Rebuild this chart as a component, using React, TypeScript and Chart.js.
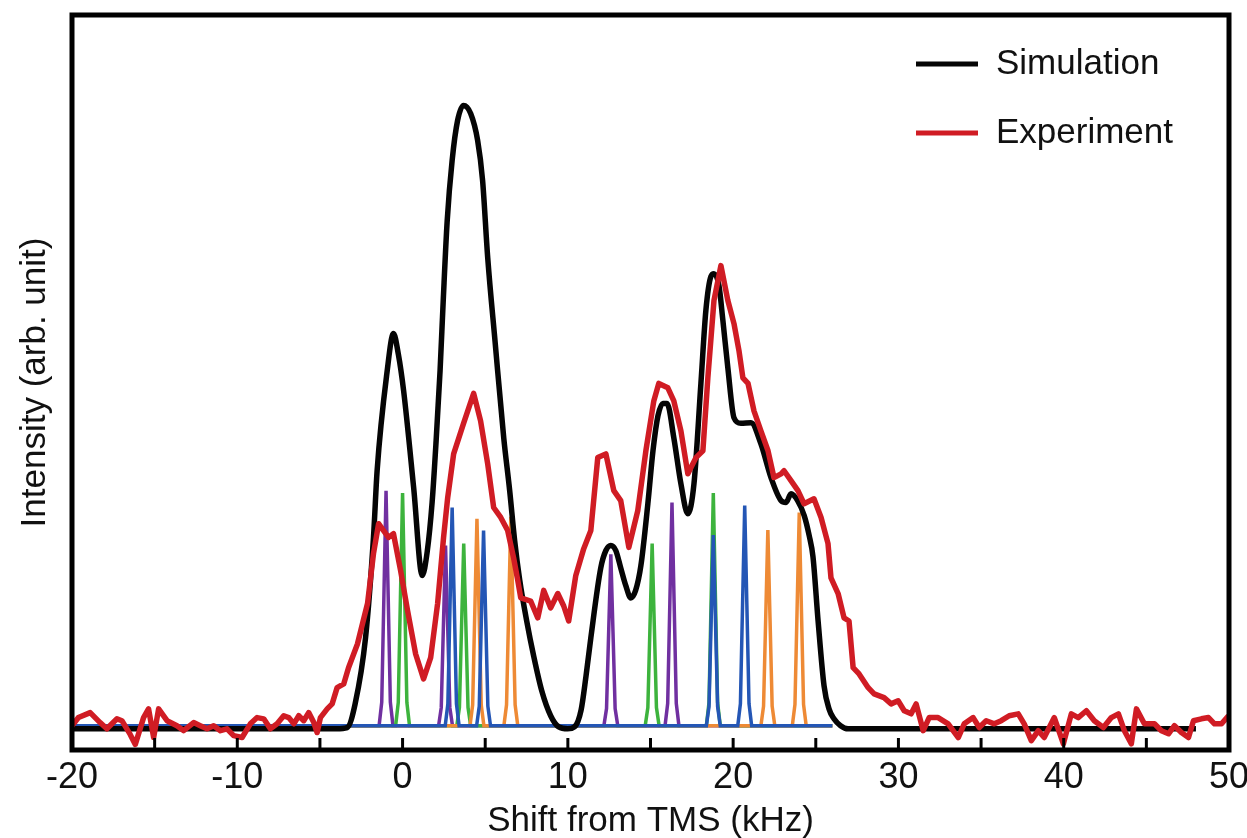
import { useEffect, useRef } from 'react';
import { Chart, registerables } from 'chart.js';

Chart.register(...registerables);

// ---------- axis settings ----------
const X_MIN = -20;
const X_MAX = 50;
const X_TICK_STEP = 5;
const X_LABEL_STEP = 10;
const Y_MIN = -3.4;
const Y_MAX = 114.5;

const X_TITLE = 'Shift from TMS (kHz)';
const Y_TITLE = 'Intensity (arb. unit)';
const SIM_LABEL = 'Simulation';
const EXP_LABEL = 'Experiment';
const LEGEND_ORDER = [SIM_LABEL, EXP_LABEL];

// ---------- simulation (black) ----------
const SIM_X = [
  -20, -4.0, -3.35, -2.87, -2.24, -1.76, -1.54, -0.95, -0.55, -0.25, 0.06, 0.67, 1.19,
  1.49, 1.79, 2.03, 2.27, 2.46, 2.7, 3.0, 3.33, 3.69, 4.12, 4.54, 4.84, 5.15, 5.6,
  6.12, 6.48, 6.78, 7.09, 7.51, 7.93, 8.42, 8.96, 9.45, 9.99, 10.4, 10.8, 11.1, 11.39,
  11.99, 12.3, 12.6, 12.9, 13.2, 13.5, 13.81, 14.1, 14.42, 14.84, 15.15, 15.45, 15.75,
  16.0, 16.41, 16.84, 17.26, 17.63, 18.05, 18.35, 18.66, 18.84, 19.14, 19.38, 19.68,
  20.05, 20.47, 21.08, 21.68, 22.29, 22.9, 23.2, 23.5, 23.9, 24.3, 24.6, 24.83, 25.14,
  25.5, 25.8, 26.1, 26.5, 26.95, 48.0,
];
const SIM_Y = [
  0, 0, 0.2, 4.0, 14.6, 30.7, 41.4, 57.0, 63.4, 60.0, 54.3, 38.7, 24.6,
  28.4, 36.4, 46.2, 57.5, 68.7, 81.5, 91.2, 97.6, 100, 98.7, 94.4, 88.0, 75.6, 62.0,
  46.7, 38.2, 30.2, 23.8, 17.3, 11.7, 6.1, 2.1, 0.3, 0, 0.3, 3.0, 8.5, 14.6,
  25.8, 28.6, 29.4, 28.6, 25.8, 23.0, 21.0, 22.2, 26.2, 36.1, 44.6, 50.2, 52.2,
  52.2, 46.7, 39.3, 34.5, 39.3, 55.4, 67.1, 72.6, 73.0, 71.1, 65.5, 57.9,
  49.9, 49.0, 49.1, 45.7, 40.3, 36.6, 36.3, 37.7, 36.6, 34.2, 31.0, 27.6, 17.3,
  6.9, 3.2, 1.6, 0.5, 0, 0,
];

// ---------- experiment (red) ----------
const EXP_X = [
  -20.0, -19.61, -18.9, -18.3, -17.89, -17.28, -16.98, -16.48, -16.17, -15.67, -15.37,
  -15.06, -14.76, -14.25, -13.65, -13.25, -12.64, -12.24, -11.83, -11.43, -11.02, -10.62,
  -10.22, -9.71, -9.21, -8.8, -8.4, -8.0, -7.59, -7.19, -6.89, -6.58, -6.28, -5.98, -5.68,
  -5.37, -5.17, -4.97, -4.56, -4.26, -3.96, -3.56, -3.27, -2.73, -2.12, -1.76, -1.45,
  -1.15, -0.85, -0.55, -0.12, 0.3, 0.79, 1.27, 1.7, 2.12, 2.48, 2.73, 3.09, 3.69, 4.3,
  4.72, 5.15, 5.51, 5.94, 6.36, 6.72, 6.97, 7.15, 7.75, 8.18, 8.54, 8.96, 9.39, 9.75,
  10.05, 10.48, 10.96, 11.39, 11.81, 12.3, 12.78, 13.2, 13.69, 14.23, 14.72, 15.2, 15.5,
  16.05, 16.41, 16.84, 17.26, 17.75, 18.17, 18.47, 18.84, 19.26, 19.68, 20.05, 20.35,
  20.59, 20.9, 21.26, 21.68, 22.11, 22.47, 22.9, 23.08, 23.5, 23.92, 24.29, 24.89, 25.32,
  25.74, 25.92, 26.35, 26.71, 27.01, 27.26, 27.62, 28.17, 28.53, 29.13, 29.56, 29.98,
  30.35, 30.77, 31.07, 31.5, 31.86, 32.4, 33.01, 33.62, 33.98, 34.52, 34.89, 35.31, 35.8,
  36.22, 36.7, 37.25, 37.61, 38.04, 38.46, 38.82, 39.43, 39.98, 40.46, 40.88, 41.37,
  41.85, 42.4, 42.88, 43.31, 43.67, 44.09, 44.4, 44.88, 45.49, 45.91, 46.34, 46.7, 47.12,
  47.55, 47.85, 48.33, 48.76, 49.12, 49.55, 49.97,
];
const EXP_Y = [
  0.5, 1.8, 2.6, 1.0, 0.0, 1.6, 1.3, -0.9, -2.5, 1.8, 3.2,
  -1.4, 3.2, 1.3, 0.5, -0.3, 1.0, 0.5, 0.0, 0.5, -0.3, 0.0,
  -1.1, -1.4, 0.8, 1.8, 1.6, 0.0, 0.8, 2.1, 1.8, 0.8, 2.1, 1.3, 2.6,
  1.0, -0.6, 1.8, 3.2, 4.0, 6.6, 7.2, 9.8, 13.6, 20.1, 28.1, 32.9,
  31.8, 30.7, 31.3, 25.4, 19.0, 12.0, 8.0, 11.4, 20.1, 30.7, 37.1, 44.1, 49.0, 53.8,
  49.4, 42.5, 35.5, 33.9, 31.8, 27.4, 23.8, 21.0, 20.5, 17.8, 22.2, 19.4, 21.7, 19.7,
  17.3, 24.6, 28.9, 31.8, 43.5, 44.1, 38.2, 36.6, 29.1, 35.0, 44.6, 52.6, 55.4,
  54.7, 52.6, 47.8, 40.9, 43.5, 44.6, 56.3, 68.7, 74.3, 68.7, 65.0, 60.7,
  56.3, 55.4, 51.0, 47.8, 44.6, 40.3, 40.9, 41.4, 39.8, 38.2, 36.1, 36.9, 33.9,
  29.7, 24.2, 21.7, 17.8, 17.3, 9.8, 8.8, 6.6, 5.6, 5.0, 4.0, 4.5,
  2.9, 2.4, 4.0, -0.3, 1.8, 1.8, 0.8, -1.4, 0.8, 1.8, 0.2, 1.3, 0.8,
  1.3, 2.1, 2.4, 0.8, -1.9, -0.3, -1.4, 1.8, -2.4, 2.4, 1.8, 2.9,
  1.3, 0.2, 1.8, 2.4, -0.3, -2.4, 3.2, 0.8, 0.8, -0.3, -0.8, 0.5, -0.6,
  -1.4, 1.3, 1.6, 1.8, 0.8, 0.8, 2.1,
];

// ---------- stick components ----------
const PURPLE_CENTERS = [-1.0, 2.6, 12.6, 16.3];
const PURPLE_HEIGHTS = [38.2, 29.4, 28.0, 36.3];
const GREEN_CENTERS = [0.0, 3.7, 15.1, 18.8];
const GREEN_HEIGHTS = [37.8, 29.7, 29.7, 37.8];
const BLUE_CENTERS = [3.0, 4.9, 18.8, 20.7];
const BLUE_HEIGHTS = [35.5, 31.8, 31.1, 35.8];
const ORANGE_CENTERS = [4.5, 6.55, 22.1, 24.0];
const ORANGE_HEIGHTS = [33.7, 34.0, 31.9, 34.7];
const STICK_BASE = 0.5;
const STICK_START = -20;
const STICK_END = 26;
const PEAK_DX = [-0.42, -0.26, -0.13, 0, 0.13, 0.26, 0.42];
const PEAK_FRAC = [0, 0.1, 0.55, 1, 0.55, 0.1, 0];

const FONT = "'Liberation Sans', Arial, Helvetica, sans-serif";

function zip(xs: number[], ys: number[]) {
  return xs.map((x, i) => ({ x, y: ys[i] }));
}

function buildSticks(centers: number[], heights: number[]) {
  const pts: { x: number; y: number }[] = [{ x: STICK_START, y: STICK_BASE }];
  centers.forEach((c, i) => {
    PEAK_DX.forEach((dx, k) => {
      pts.push({ x: c + dx, y: STICK_BASE + (heights[i] - STICK_BASE) * PEAK_FRAC[k] });
    });
  });
  pts.push({ x: STICK_END, y: STICK_BASE });
  return pts;
}

const framePlugin = {
  id: 'frameAndTicks',
  afterDatasetsDraw(chart: any) {
    const { ctx, chartArea } = chart;
    const xs = chart.scales.x;
    ctx.save();
    ctx.strokeStyle = '#000';
    ctx.lineWidth = 3;
    xs.ticks.forEach((_t: any, i: number) => {
      const px = xs.getPixelForTick(i);
      ctx.beginPath();
      ctx.moveTo(px, chartArea.bottom);
      ctx.lineTo(px, chartArea.bottom - 12);
      ctx.stroke();
    });
    ctx.lineWidth = 5;
    ctx.strokeRect(chartArea.left, chartArea.top, chartArea.right - chartArea.left, chartArea.bottom - chartArea.top);
    ctx.restore();
  },
};

const legendPlugin = {
  id: 'cornerLegend',
  afterDraw(chart: any) {
    const { ctx } = chart;
    ctx.save();
    LEGEND_ORDER.forEach((label, i) => {
      const d = chart.data.datasets.find((ds: any) => ds.label === label);
      if (!d) return;
      const y = 64 + i * 69;
      ctx.strokeStyle = d.borderColor;
      ctx.lineWidth = 5;
      ctx.beginPath();
      ctx.moveTo(916, y);
      ctx.lineTo(978, y);
      ctx.stroke();
      ctx.fillStyle = '#111';
      ctx.font = `35px ${FONT}`;
      ctx.textBaseline = 'middle';
      ctx.textAlign = 'left';
      ctx.fillText(d.label, 996, y);
    });
    ctx.restore();
  },
};

export default function App() {
  const ref = useRef<HTMLCanvasElement | null>(null);

  useEffect(() => {
    document.body.style.margin = '0';
    const canvas = ref.current;
    if (!canvas) return;
    const stick = (label: string, color: string, c: number[], h: number[], order: number) => ({
      label,
      data: buildSticks(c, h),
      borderColor: color,
      backgroundColor: color,
      borderWidth: 3.5,
      pointRadius: 0,
      tension: 0,
      order,
    });
    const chart = new Chart(canvas, {
      type: 'line',
      data: {
        datasets: [
          {
            label: EXP_LABEL,
            data: zip(EXP_X, EXP_Y),
            borderColor: '#d01c24',
            backgroundColor: '#d01c24',
            borderWidth: 5.5,
            pointRadius: 0,
            tension: 0,
            borderJoinStyle: 'round',
            order: 0,
          },
          {
            label: SIM_LABEL,
            data: zip(SIM_X, SIM_Y),
            borderColor: '#050505',
            backgroundColor: '#050505',
            borderWidth: 5.5,
            pointRadius: 0,
            cubicInterpolationMode: 'monotone',
            order: 1,
          },
          stick('Component A', '#2456b5', BLUE_CENTERS, BLUE_HEIGHTS, 2),
          stick('Component B', '#ee8a35', ORANGE_CENTERS, ORANGE_HEIGHTS, 3),
          stick('Component C', '#3db33d', GREEN_CENTERS, GREEN_HEIGHTS, 4),
          stick('Component D', '#7030a0', PURPLE_CENTERS, PURPLE_HEIGHTS, 5),
        ] as any,
      },
      options: {
        animation: false,
        responsive: false,
        devicePixelRatio: 1,
        layout: { padding: { top: 15, right: 18, left: 0, bottom: 0 } },
        plugins: { legend: { display: false }, tooltip: { enabled: false } },
        scales: {
          x: {
            type: 'linear',
            min: X_MIN,
            max: X_MAX,
            afterFit: (s: any) => {
              s.height = 88;
              s.paddingLeft = 0;
              s.paddingRight = 0;
            },
            ticks: {
              stepSize: X_TICK_STEP,
              autoSkip: false,
              maxRotation: 0,
              padding: 6,
              color: '#111',
              font: { size: 36, family: FONT },
              callback: (v: any) => (Number(v) % X_LABEL_STEP === 0 ? String(v) : ''),
            },
            grid: { display: false, drawTicks: false },
            border: { display: false },
            title: {
              display: true,
              text: X_TITLE,
              color: '#111',
              font: { size: 35, family: FONT },
              padding: { top: 0, bottom: -4 },
            },
          },
          y: {
            type: 'linear',
            min: Y_MIN,
            max: Y_MAX,
            afterFit: (s: any) => {
              s.width = 72;
            },
            ticks: { display: false },
            grid: { display: false, drawTicks: false },
            border: { display: false },
            title: {
              display: true,
              text: Y_TITLE,
              color: '#111',
              font: { size: 35, family: FONT },
              padding: { top: 14, bottom: 0 },
            },
          },
        },
      },
      plugins: [framePlugin, legendPlugin],
    } as any);
    return () => chart.destroy();
  }, []);

  return <canvas ref={ref} width={1247} height={838} style={{ display: 'block', width: 1247, height: 838 }} />;
}
